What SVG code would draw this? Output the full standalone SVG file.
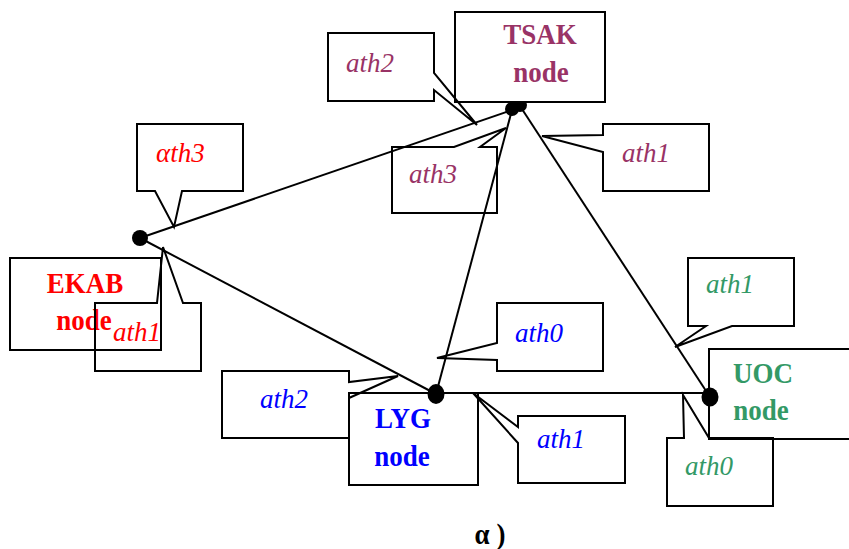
<svg xmlns="http://www.w3.org/2000/svg" width="849" height="549" viewBox="0 0 849 549">
  <style>
    .box { fill: none; stroke: #000; stroke-width: 2; }
    .solid { fill: #fff; stroke: #000; stroke-width: 2; }
    .call { fill: none; stroke: #000; stroke-width: 2; stroke-linejoin: miter; }
    .link { stroke: #000; stroke-width: 2; fill: none; }
    .dot { fill: #000; }
    .name { font-family: "Liberation Serif", "Times New Roman", serif; font-weight: bold; font-size: 27px; text-anchor: middle; }
    .tag { font-family: "Liberation Serif", "Times New Roman", serif; font-style: italic; font-size: 27px; }
    .tsak { fill: #993366; }
    .ekab { fill: #FF0000; }
    .lyg { fill: #0000FF; }
    .uoc { fill: #339966; }
  </style>
  <rect width="849" height="549" fill="#fff"/>

  <!-- links between the nodes -->
  <g id="connectors">
    <line class="link" x1="140" y1="238" x2="512" y2="110"/>
    <line class="link" x1="140" y1="238" x2="436" y2="394"/>
    <line class="link" x1="436" y1="394" x2="512" y2="110"/>
    <line class="link" x1="436" y1="393" x2="710" y2="393"/>
    <line class="link" x1="520" y1="106" x2="710" y2="397"/>
  </g>

  <!-- node names are set slightly tall: scale(1,1.12) about the baseline -->
  <g id="node-tsak">
    <circle class="dot" cx="512" cy="109" r="7"/>
    <circle class="dot" cx="520" cy="105" r="7"/>
    <rect class="solid" x="455" y="12" width="150" height="90"/>
    <text class="name tsak" transform="translate(540,44) scale(1,1.12)">TSAK</text>
    <text class="name tsak" transform="translate(541,82) scale(1,1.12)">node</text>
    <path class="call" d="M328,33 H434 V73 L477,125 L434,90 V101 H328 Z"/>
    <text class="tag tsak" x="346" y="72">ath2</text>
    <path class="call" d="M392,147 H454 L506,128 L480,147 H497 V213 H392 Z"/>
    <text class="tag tsak" x="409" y="183">ath3</text>
    <path class="call" d="M603,124 H709 V191 H603 V152 L542,136 L603,135 Z"/>
    <text class="tag tsak" x="622" y="162">ath1</text>
  </g>

  <g id="node-ekab">
    <rect class="box" x="10" y="258" width="151" height="92"/>
    <text class="name ekab" transform="translate(85,293) scale(1,1.12)">EKAB</text>
    <text class="name ekab" transform="translate(84,330) scale(1,1.12)">node</text>
    <circle class="dot" cx="140" cy="238" r="8"/>
    <path class="call" d="M137,124 H243 V191 H182 L174,227 L155,191 H137 Z"/>
    <text class="tag ekab" x="156" y="162">αth3</text>
    <path class="call" d="M95,303 H157 L163,247 L183,303 H201 V371 H95 Z"/>
    <text class="tag ekab" x="113" y="341">ath1</text>
  </g>

  <g id="node-lyg">
    <rect class="box" x="349" y="393" width="129" height="92"/>
    <text class="name lyg" transform="translate(403,428) scale(1,1.12)">LYG</text>
    <text class="name lyg" transform="translate(402,466) scale(1,1.12)">node</text>
    <ellipse class="dot" cx="436" cy="394" rx="8.5" ry="10"/>
    <path class="call" d="M222,371 H349 V382 L398,376 L349,398 V438 H222 Z"/>
    <text class="tag lyg" x="260" y="408">ath2</text>
    <path class="call" d="M497,303 H603 V371 H497 V360 L437,358 L497,343 Z"/>
    <text class="tag lyg" x="515" y="342">ath0</text>
    <path class="call" d="M518,416 H625 V483 H518 V443 L473,393 L518,427 Z"/>
    <text class="tag lyg" x="537" y="448">ath1</text>
  </g>

  <g id="node-uoc">
    <rect class="box" x="709" y="349" width="150" height="90"/>
    <text class="name uoc" transform="translate(763,383) scale(1,1.12)">UOC</text>
    <text class="name uoc" transform="translate(761,420) scale(1,1.12)">node</text>
    <ellipse class="dot" cx="710" cy="397" rx="8.5" ry="9.5"/>
    <path class="call" d="M688,258 H794 V326 H732 L675,347 L706,326 H688 Z"/>
    <text class="tag uoc" x="706" y="293">ath1</text>
    <path class="call" d="M667,438 H684 L683,395 L709,438 H773 V506 H667 Z"/>
    <text class="tag uoc" x="685" y="475">ath0</text>
  </g>

  <text class="name" transform="translate(490,544) scale(1,1.12)" fill="#000">α )</text>
</svg>
